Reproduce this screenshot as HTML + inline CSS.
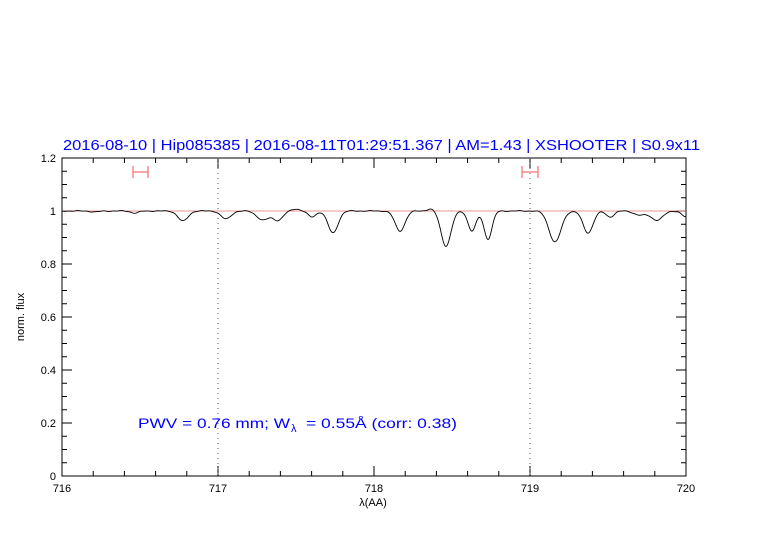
<!DOCTYPE html>
<html><head><meta charset="utf-8"><style>
html,body{margin:0;padding:0;background:#fff;}
svg{display:block;}
text{font-family:"Liberation Sans",sans-serif;}
</style></head><body>
<svg id="s" width="782" height="542" xmlns="http://www.w3.org/2000/svg">
<text x="63" y="150" fill="#0000ff" font-size="14.5" textLength="637" lengthAdjust="spacingAndGlyphs">2016-08-10 | Hip085385 | 2016-08-11T01:29:51.367 | AM=1.43 | XSHOOTER | S0.9x11</text>
<rect x="62" y="158" width="624" height="318" fill="none" stroke="#000" stroke-width="1"/>
<g id="ticks" stroke="#000" stroke-width="1"></g>
<line x1="218" y1="158" x2="218" y2="476" stroke="#555" stroke-dasharray="1,4"/>
<line x1="530" y1="158" x2="530" y2="476" stroke="#555" stroke-dasharray="1,4"/>
<line x1="62" y1="211" x2="686" y2="211" stroke="#e07070" stroke-width="0.8"/>
<g stroke="#f07070" stroke-width="1.2">
<line x1="133" y1="172" x2="148" y2="172"/><line x1="133" y1="166" x2="133" y2="178"/><line x1="148" y1="166" x2="148" y2="178"/>
<line x1="522" y1="172" x2="538" y2="172"/><line x1="522" y1="166" x2="522" y2="178"/><line x1="538" y1="166" x2="538" y2="178"/>
</g>
<path id="spec" fill="none" stroke="#000" stroke-width="0.9"/>
<g font-size="11" fill="#000" text-anchor="end">
<text x="56" y="162">1.2</text><text x="56" y="215">1</text><text x="56" y="268">0.8</text><text x="56" y="321">0.6</text><text x="56" y="374">0.4</text><text x="56" y="427">0.2</text><text x="56" y="480">0</text>
</g>
<g font-size="11" fill="#000" text-anchor="middle">
<text x="62" y="492">716</text><text x="218" y="492">717</text><text x="374" y="492">718</text><text x="530" y="492">719</text><text x="686" y="492">720</text>
<text x="373" y="506">λ(AA)</text>
<text transform="translate(24,317) rotate(-90)">norm. flux</text>
</g>
<g fill="#0000ff" font-size="14">
<text x="138" y="428" textLength="152" lengthAdjust="spacingAndGlyphs">PWV = 0.76 mm; W</text>
<text x="291" y="432" font-size="11">λ</text>
<text x="306" y="428" textLength="151" lengthAdjust="spacingAndGlyphs">= 0.55Å (corr: 0.38)</text>
</g>
</svg>
<script>
var t=document.getElementById('ticks'),h='';
for(var i=0;i<=20;i++){var x=62+i*31.2,L=(i%5==0)?10:5;h+='<line x1="'+x+'" y1="476" x2="'+x+'" y2="'+(476-L)+'"/><line x1="'+x+'" y1="158" x2="'+x+'" y2="'+(158+L)+'"/>';}
for(var j=0;j<=24;j++){var y=476-j*13.25,L=(j%4==0)?10:5;h+='<line x1="62" y1="'+y+'" x2="'+(62+L)+'" y2="'+y+'"/><line x1="686" y1="'+y+'" x2="'+(686-L)+'" y2="'+y+'"/>';}
t.innerHTML=h;
var lines=[[95,1,4],[135,2,4],[183,10,5],[226,8,5],[263,9,6],[278,9,5],[312,6,4],[333,22,5],[400,20,5],[446,35,5],[472,20,4],[488,28,4],[555,31,6],[588,22,5],[610,6,4],[640,4,6],[657,9,6],[686,6,4],[296,-2,4],[431,-2,4]];
var d='';
for(var x=62;x<=686;x+=0.5){var y=211;for(var k=0;k<lines.length;k++){var l=lines[k];y+=l[1]*Math.exp(-Math.pow(x-l[0],2)/(2*l[2]*l[2]));}
y+=0.3*Math.sin(x*0.3)+0.2*Math.sin(x*0.71);d+=(x==62?'M':'L')+x+','+y.toFixed(2);}
document.getElementById('spec').setAttribute('d',d);
</script>
</body></html>
